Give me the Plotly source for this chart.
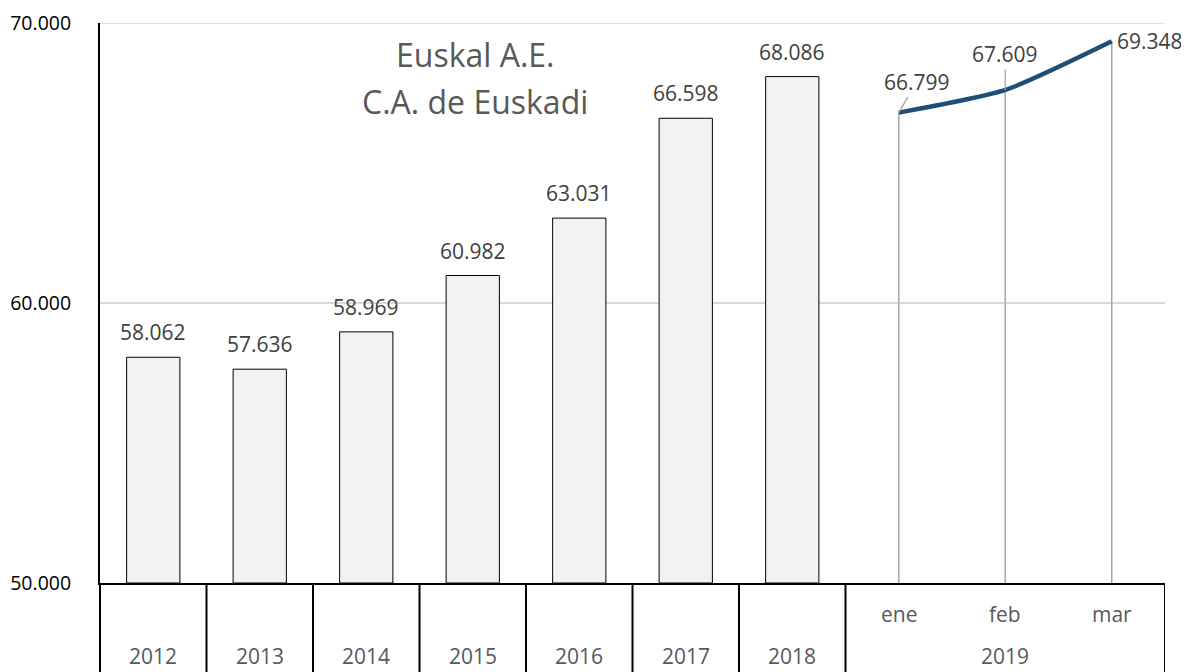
import plotly.graph_objects as go

years = ["2012", "2013", "2014", "2015", "2016", "2017", "2018"]
year_values = [58062, 57636, 58969, 60982, 63031, 66598, 68086]
months = ["ene", "feb", "mar"]
month_values = [66799, 67609, 69348]
month_year = "2019"
title_lines = ["Euskal A.E.", "C.A. de Euskadi"]
y_ticks = [50000, 60000, 70000]


def fmt(v):
    return f"{v:,}".replace(",", ".")


FONT = "Open Sans"
LBL = 21
n_years = len(years)
n_slots = n_years + len(months)
bar_x = [i + 0.5 for i in range(n_years)]
month_x = [n_years + j + 0.5 for j in range(len(months))]
y_min, y_max = y_ticks[0], y_ticks[-1]

fig = go.Figure()

fig.add_trace(go.Bar(
    x=bar_x, y=[v - y_min for v in year_values], base=y_min, width=0.5,
    marker=dict(color="#f2f2f2", line=dict(color="#000000", width=1)),
    hoverinfo="skip", showlegend=False,
))

# drop lines
dx, dy = [], []
for mx, mv in zip(month_x, month_values):
    dx += [mx, mx, None]
    dy += [mv, y_min, None]
fig.add_trace(go.Scatter(x=dx, y=dy, mode="lines",
                         line=dict(color="#a6a6a6", width=1.5),
                         hoverinfo="skip", showlegend=False))

fig.add_trace(go.Scatter(
    x=month_x, y=month_values, mode="lines",
    line=dict(color="#1f4e79", width=4.5, shape="spline", smoothing=0.6),
    hoverinfo="skip", showlegend=False,
))

annotations = []
for x, v in zip(bar_x, year_values):
    annotations.append(dict(x=x, y=v, xref="x", yref="y", text=fmt(v),
                            showarrow=False, yshift=25, yanchor="middle",
                            font=dict(family=FONT, size=LBL, color="#404040")))

month_offsets = [(18, -31, True), (0, -36, True), (38, 0, False)]
for (x, v, (ax, ay, arrow)) in zip(month_x, month_values, month_offsets):
    if arrow:
        annotations.append(dict(x=x, y=v, xref="x", yref="y", text=fmt(v),
                                showarrow=True, arrowhead=0, arrowwidth=1.3,
                                arrowcolor="#a6a6a6", ax=ax, ay=ay,
                                font=dict(family=FONT, size=LBL, color="#404040")))
    else:
        annotations.append(dict(x=x, y=v, xref="x", yref="y", text=fmt(v),
                                showarrow=False, xshift=ax, yshift=ay,
                                yanchor="middle",
                                font=dict(family=FONT, size=LBL, color="#404040")))

# category table labels
YEAR_ROW = -0.131
for x, yr in zip(bar_x, years):
    annotations.append(dict(x=x, y=YEAR_ROW, xref="x", yref="paper", text=yr,
                            showarrow=False, yanchor="middle",
                            font=dict(family=FONT, size=LBL, color="#595959")))
for x, m in zip(month_x, months):
    annotations.append(dict(x=x, y=-0.055, xref="x", yref="paper", text=m,
                            showarrow=False, yanchor="middle",
                            font=dict(family=FONT, size=LBL, color="#595959")))
annotations.append(dict(x=(n_years + n_slots) / 2, y=YEAR_ROW, xref="x", yref="paper",
                        text=month_year, showarrow=False, yanchor="middle",
                        font=dict(family=FONT, size=LBL, color="#595959")))

for line, ty in zip(title_lines, [0.943, 0.859]):
    annotations.append(dict(x=3.52, y=ty, xref="x", yref="paper",
                            text=line, showarrow=False, yanchor="middle",
                            font=dict(family=FONT, size=32, color="#595959")))

shapes = []
for k in list(range(1, n_years + 1)) + [n_slots]:
    shapes.append(dict(type="line", xref="x", yref="paper", x0=k, x1=k,
                       y0=0, y1=-0.3, line=dict(color="#000000", width=2)))
shapes.append(dict(type="line", xref="paper", yref="paper", x0=0, x1=0,
                   y0=0, y1=-0.3, line=dict(color="#000000", width=2)))
# top gridline (sits on the plot edge, so drawn explicitly)
shapes.append(dict(type="line", xref="paper", yref="y", x0=0, x1=1,
                   y0=y_max, y1=y_max, layer="below",
                   line=dict(color="#d9d9d9", width=1.5)))

# page body has an 8px margin: figure sized/margined to land on the reference pixels
fig.update_layout(
    width=1181, height=664,
    margin=dict(l=92, r=24, t=15, b=89, autoexpand=False),
    paper_bgcolor="white", plot_bgcolor="white",
    annotations=annotations, shapes=shapes,
    xaxis=dict(range=[0, n_slots], showticklabels=False, showgrid=False,
               zeroline=False, showline=True, linecolor="#000000", linewidth=2,
               automargin=False, fixedrange=True),
    yaxis=dict(range=[y_min, y_max], tickvals=y_ticks,
               ticktext=[fmt(t) for t in y_ticks],
               showgrid=True, gridcolor="#d9d9d9", gridwidth=1.5,
               zeroline=False, showline=True, linecolor="#000000", linewidth=2,
               ticks="", ticklabelstandoff=23, automargin=False,
               tickfont=dict(family=FONT, size=19.5, color="#000000"),
               fixedrange=True),
)

fig.write_html("out.html")
